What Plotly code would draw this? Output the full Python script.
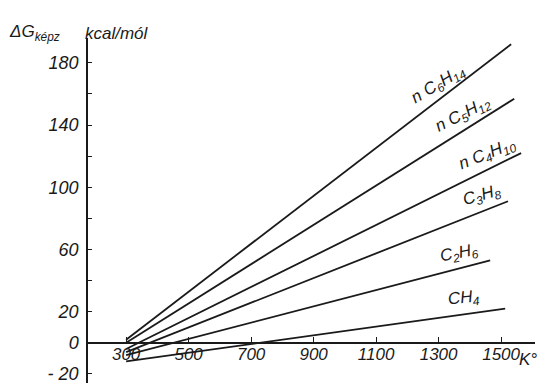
import plotly.graph_objects as go

# ---- data ----
series_names = ["n C<sub>6</sub>H<sub>14</sub>", "n C<sub>5</sub>H<sub>12</sub>", "n C<sub>4</sub>H<sub>10</sub>",
                "C<sub>3</sub>H<sub>8</sub>", "C<sub>2</sub>H<sub>6</sub>", "CH<sub>4</sub>"]
t_start = [300, 300, 300, 300, 300, 300]
t_end = [1532, 1542, 1564, 1522, 1465, 1513]
g_start = [2, 0, -4, -6, -8, -12]
g_end = [192, 157, 122, 91, 53, 22]

x_ticks = [300, 500, 700, 900, 1100, 1300, 1500]
x_tick_labels = ["300", "500", "700", "900", "1100", "1300", "1500"]
y_ticks = [-20, 0, 20, 40, 60, 80, 100, 120, 140, 160, 180]
y_tick_labels = ["- 20", "0", "20", "", "60", "", "100", "", "140", "", "180"]

# label placement (K along each line) and text angle
label_t = [1300, 1380, 1455, 1440, 1365, 1380]
label_angle = [-31, -27, -22, -16, -11, -6]

FONT = "Liberation Sans"
INK = "#1a1a1a"

fig = go.Figure()
for name, t0, t1, g0, g1 in zip(series_names, t_start, t_end, g_start, g_end):
    fig.add_trace(go.Scatter(x=[t0, t1], y=[g0, g1], mode="lines",
                             line=dict(color=INK, width=1.8), name=name,
                             showlegend=False, hoverinfo="skip"))

y_min, y_max = -31, 196
annotations = []
for name, t0, t1, g0, g1, lt, ang in zip(series_names, t_start, t_end, g_start, g_end,
                                         label_t, label_angle):
    gy = g0 + (g1 - g0) * (lt - t0) / (t1 - t0)
    annotations.append(dict(x=lt, y=gy, xref="x", yref="y", text=name, showarrow=False,
                            textangle=ang, yshift=15, xanchor="center", yanchor="middle",
                            font=dict(family=FONT, size=17, color=INK, style="italic")))

annotations.append(dict(x=-0.175, y=1.014, xref="paper", yref="paper", xanchor="left", yanchor="middle",
                        text="ΔG<sub>képz</sub>", showarrow=False,
                        font=dict(family=FONT, size=17, color=INK, style="italic")))
annotations.append(dict(x=-0.01, y=1.014, xref="paper", yref="paper", xanchor="left", yanchor="middle",
                        text="kcal/mól", showarrow=False,
                        font=dict(family=FONT, size=17, color=INK, style="italic")))
annotations.append(dict(x=0.947, y=-11, xref="paper", yref="y", xanchor="center", yanchor="middle",
                        text="K°", showarrow=False,
                        font=dict(family=FONT, size=17, color=INK, style="italic")))

fig.update_layout(
    width=547, height=383,
    margin=dict(l=80, r=2, t=30, b=0),
    paper_bgcolor="white", plot_bgcolor="white",
    annotations=annotations,
    shapes=[dict(type="line", xref="paper", yref="y", x0=0.972, x1=0.9935, y0=0, y1=0,
                 line=dict(color=INK, width=1.5))],
    xaxis=dict(range=[178, 1608], domain=[0, 0.961], anchor="free",
               position=(0 - y_min) / (y_max - y_min),
               showline=True, linecolor=INK, linewidth=1.5,
               ticks="inside", ticklen=5, tickcolor=INK, tickwidth=1,
               ticklabelstandoff=-4,
               tickvals=x_ticks, ticktext=x_tick_labels, showgrid=False, zeroline=False,
               tickfont=dict(family=FONT, size=17, color=INK, style="italic")),
    yaxis=dict(range=[y_min, y_max], showline=True, linecolor=INK, linewidth=1.5,
               ticks="inside", ticklen=4, tickcolor=INK, tickwidth=1,
               ticklabelstandoff=4,
               tickvals=y_ticks, ticktext=y_tick_labels, showgrid=False, zeroline=False,
               tickfont=dict(family=FONT, size=18, color=INK, style="italic")),
)

fig.write_html("out.html")
